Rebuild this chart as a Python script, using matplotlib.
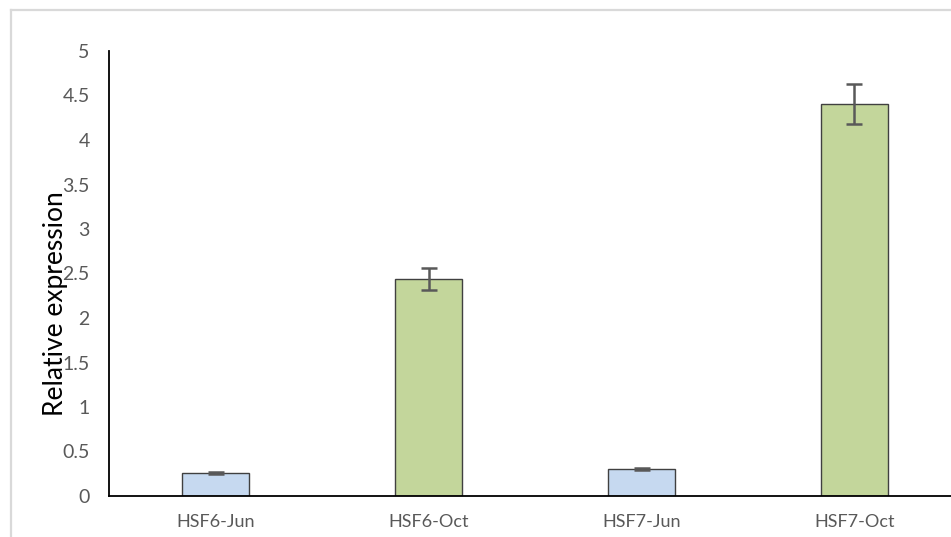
import matplotlib
matplotlib.use("Agg")
import matplotlib.pyplot as plt
from matplotlib.lines import Line2D

categories = ["HSF6-Jun", "HSF6-Oct", "HSF7-Jun", "HSF7-Oct"]
values = [0.26, 2.44, 0.30, 4.40]
errors = [0.012, 0.125, 0.012, 0.225]
colors = ["#c6d9f0", "#c3d69b", "#c6d9f0", "#c3d69b"]
yticks = [0, 0.5, 1, 1.5, 2, 2.5, 3, 3.5, 4, 4.5, 5]
ytick_labels = ["0", "0.5", "1", "1.5", "2", "2.5", "3", "3.5", "4", "4.5", "5"]

plt.rcParams['font.family'] = ['Lato', 'DejaVu Sans']

W, H = 951, 537
fig = plt.figure(figsize=(W / 100, H / 100), dpi=100)
ax = fig.add_axes([109 / W, 41 / H, 852 / W, 445 / H])

x = list(range(len(categories)))
ax.bar(x, values, width=0.315, color=colors, edgecolor="#404040", linewidth=1.0, zorder=2)
ax.errorbar(x, values, yerr=errors, fmt="none", ecolor="#595959", elinewidth=1.8,
            capsize=5.5, capthick=1.8, zorder=3)

ax.set_xlim(-0.5, 3.5)
ax.set_ylim(0, 5)
ax.set_yticks(yticks)
ax.set_yticklabels(ytick_labels)
ax.set_xticks(x)
ax.set_xticklabels(categories)
ax.tick_params(axis="both", length=0, colors="#595959")
ax.tick_params(axis="y", pad=14, labelsize=14)
ax.tick_params(axis="x", pad=13, labelsize=13)
for s in ["top", "right"]:
    ax.spines[s].set_visible(False)
for s in ["left", "bottom"]:
    ax.spines[s].set_color("black")
    ax.spines[s].set_linewidth(1.3)

fig.text(55 / W, 1 - 304 / H, "Relative expression", rotation=90, ha="center", va="center",
         fontsize=19, color="black")

# chart area border (light gray)
fig.add_artist(Line2D([11 / W, 11 / W], [0, 1 - 10 / H], color="#d9d9d9", linewidth=1.6,
                      transform=fig.transFigure))
fig.add_artist(Line2D([11 / W, 1], [1 - 10 / H, 1 - 10 / H], color="#d9d9d9", linewidth=1.6,
                      transform=fig.transFigure))

fig.savefig("out.png", dpi=100)
